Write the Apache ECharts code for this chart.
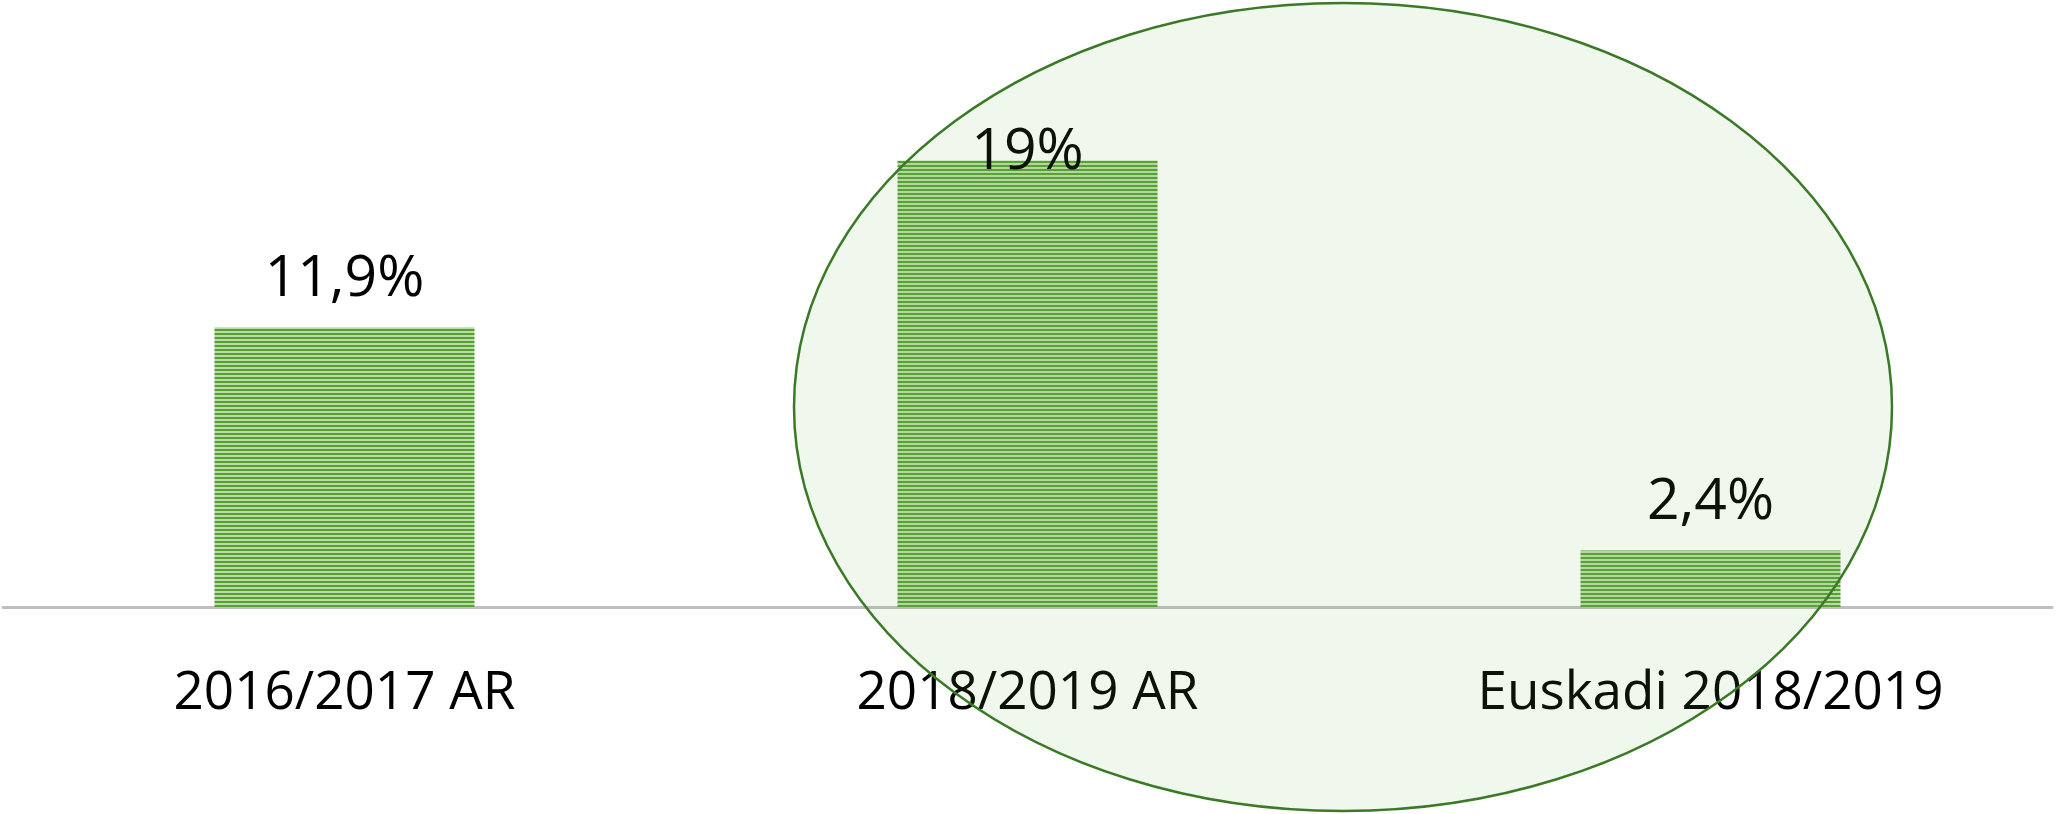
<!DOCTYPE html>
<html>
<head>
<meta charset="utf-8">
<script src="https://cdn.jsdelivr.net/npm/echarts@6/dist/echarts.min.js"></script>
<style>
  html, body { margin: 0; padding: 0; background: #fff; }
  #chart { width: 2056px; height: 814px; }
</style>
</head>
<body>
<div id="chart"></div>
<script>
// categorias y valores (%)
const categories = ['2016/2017 AR', '2018/2019 AR', 'Euskadi 2018/2019']
const values = [11.9, 19, 2.4]
const valueLabels = ['11,9%', '19%', '2,4%']

// trama de rayas horizontales para las barras
function stripePattern() {
  const c = document.createElement('canvas')
  c.width = 4
  c.height = 4
  const ctx = c.getContext('2d')
  ctx.fillStyle = '#bcdca6'
  ctx.fillRect(0, 0, 4, 4)
  ctx.fillStyle = '#56a035'
  ctx.fillRect(0, 1, 4, 2)
  return c
}

const chart = echarts.init(document.getElementById('chart'))
const maxVal = Math.max(...values)

const seriesData = values.map((v, i) => {
  const item = { value: v }
  // la etiqueta de la barra mas alta queda recortada dentro del area
  if (v === maxVal) {
    item.label = { offset: [0, 40] }
  }
  return item
})

const option = {
  animation: false,
  backgroundColor: '#fff',
  grid: {
    top: 137,
    bottom: 207,
    left: 3,
    right: 4
  },
  xAxis: {
    type: 'category',
    data: categories,
    axisLine: {
      lineStyle: { color: '#bfbfbf', width: 3 }
    },
    axisTick: { show: false },
    axisLabel: {
      margin: 60,
      color: '#000',
      fontSize: 53,
      fontFamily: 'Open Sans'
    }
  },
  yAxis: {
    type: 'value',
    min: 0,
    max: 20,
    show: false,
    splitLine: { show: false }
  },
  series: [{
    type: 'bar',
    barWidth: 260,
    data: seriesData,
    itemStyle: {
      color: { image: stripePattern(), repeat: 'repeat' }
    },
    label: {
      show: true,
      position: 'top',
      distance: 19,
      color: '#000',
      fontSize: 57,
      fontFamily: 'Open Sans',
      formatter: p => valueLabels[p.dataIndex]
    }
  }],
  graphic: [{
    type: 'ellipse',
    z: 100,
    silent: true,
    shape: { cx: 1343, cy: 407, rx: 549, ry: 404 },
    style: {
      fill: 'rgba(112,173,71,0.1)',
      stroke: '#3a7a26',
      lineWidth: 2.5
    }
  }]
}

chart.setOption(option)
window.onresize = () => {
  chart.resize()
}
</script>
</body>
</html>
